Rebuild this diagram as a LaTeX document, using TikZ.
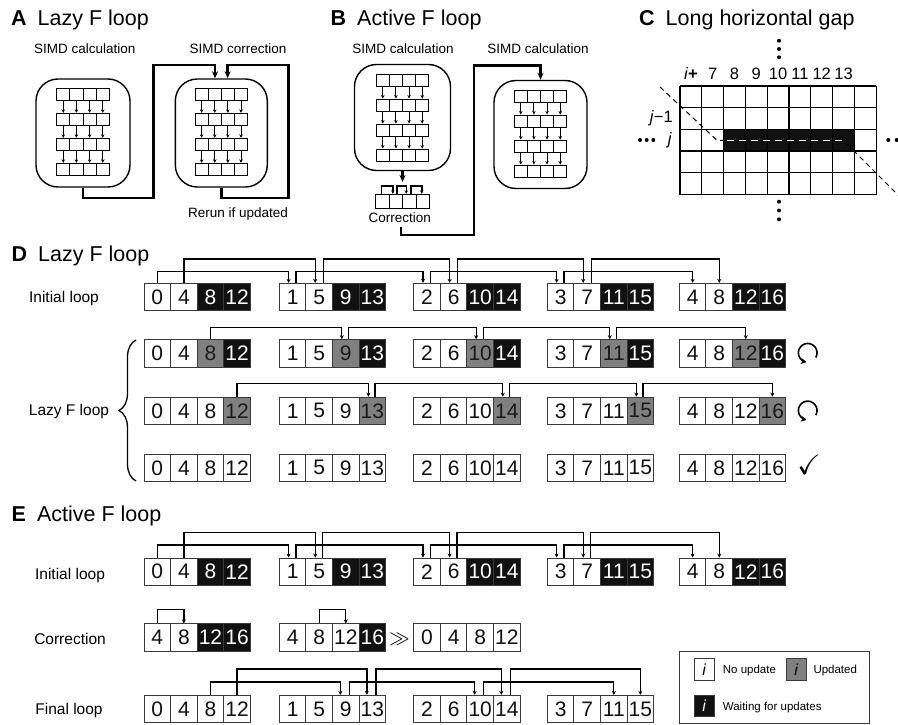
\documentclass[tikz,border=0pt]{standalone}
\usepackage{amssymb}
\usepackage{fontspec}
\setmainfont{Liberation Sans}
\usetikzlibrary{arrows.meta,decorations.pathreplacing,calc}
\definecolor{cellk}{HTML}{111111}
\definecolor{cellg}{HTML}{808080}
\definecolor{cellw}{HTML}{FFFFFF}
\definecolor{txtk}{HTML}{FFFFFF}
\definecolor{txtg}{HTML}{1A1A1A}
\definecolor{txtw}{HTML}{111111}
\definecolor{bord}{HTML}{3A3A3A}
\tikzset{
 cell/.style={draw=bord, line width=0.9pt, minimum width=26.6pt, minimum height=27.3pt, inner sep=0pt, font=\fontsize{21}{21}\selectfont},
 sarr/.style={line width=1.3pt, -{Stealth[length=4pt,width=4pt]}},
 corarr/.style={line width=1.6pt, -{Stealth[length=3.5pt,width=3.5pt]}},
 bigarr/.style={line width=2.4pt, -{Stealth[length=7pt,width=6pt]}},
 simdcell/.style={draw, line width=0.9pt, minimum width=13.15pt, minimum height=12.4pt, inner sep=0pt},
 corcell/.style={draw, line width=0.9pt, minimum width=13.4pt, minimum height=14pt, inner sep=0pt},
 simdarr/.style={line width=1pt, -{Stealth[length=3.5pt,width=3.5pt]}},
 simdbox/.style={draw, line width=1.4pt, rounded corners=22pt},
 title/.style={anchor=base west, inner sep=0pt, font=\fontsize{21.5}{23}\selectfont},
 lab/.style={anchor=base, inner sep=1pt, font=\fontsize{13.5}{15}\selectfont},
 rowlab/.style={anchor=base, inner sep=1pt, font=\fontsize{15.5}{17}\selectfont},
 clab/.style={anchor=base, inner sep=0pt, font=\fontsize{16.5}{17}\selectfont},
 legcell/.style={draw=bord, line width=0.9pt, minimum width=19.7pt, minimum height=21.7pt, inner sep=0pt, font=\fontsize{16}{16}\selectfont\itshape},
 legtext/.style={anchor=base west, inner sep=0pt, font=\fontsize{11.5}{13}\selectfont},
 rerun/.style={line width=1.6pt, -{Stealth[length=5.5pt,width=6pt]}},
}
\newcommand{\cellgroup}[4]{%
  \foreach \ff/\vv [count=\ii from 0] in {#4}{%
    \node[cell, fill=cell\ff, text=txt\ff] (#1c\ii) at ({#2+13.3+26.6*\ii},#3) {\vv};
  }}
\newcommand{\cnx}[5]{\draw[sarr] ([xshift=#2pt]#1.north) -- ++(0,-#5) -| ([xshift=#4pt]#3.north);}
\newcommand{\simd}[3]{%
  \foreach \rr in {0,...,3}{\foreach \kk in {0,...,3}{%
    \node[simdcell] (#1-\rr-\kk) at ({#2+6.575+13.15*\kk},{#3+6.2+25*\rr}) {};}}
  \foreach \rr/\rn in {0/1,1/2,2/3}{\foreach \kk in {0,...,3}{%
    \draw[simdarr] (#1-\rr-\kk.south) -- (#1-\rn-\kk.north);}}}
\newcommand{\rerunsym}[2]{\draw[rerun] plot[smooth, domain=-30:262, samples=40] ({#1+9.3*cos(\x)},{#2-9.3*sin(\x)});}
\begin{document}
\begin{tikzpicture}[x=1pt,y=-1pt]
\fill[white] (0,0) rectangle (898,725);
\useasboundingbox (0,0) rectangle (898,725);

% ---------- titles
\node[title] (tA) at (11,26) {\textbf{A}\hspace{11pt}Lazy F loop};
\node[title] (tB) at (330.5,26) {\textbf{B}\hspace{11pt}Active F loop};
\node[title] (tC) at (639,26) {\textbf{C}\hspace{11pt}Long horizontal gap};
\node[title] (tD) at (11.5,261.7) {\textbf{D}\hspace{11pt}Lazy F loop};
\node[title] (tE) at (11.5,521.7) {\textbf{E}\hspace{11pt}Active F loop};

% ---------- panel A
\node[lab] (la1) at (84.7,53.3) {SIMD calculation};
\node[lab] (la2) at (238,53.3) {SIMD correction};
\node[lab] (la3) at (238,217.3) {Rerun if updated};
\simd{sa}{56.7}{88.3}
\simd{sb}{195}{88.3}
\node[simdbox, minimum width=94pt, minimum height=108pt] (boxA1) at (83,133) {};
\node[simdbox, minimum width=92pt, minimum height=108pt] (boxA2) at (221.3,133) {};
\coordinate (A1turn) at (153.3,65);
\coordinate (A2turn) at (288.3,65);
\draw[bigarr] (boxA1.south) -- ++(0,10) -| (A1turn) -| ([xshift=-6.3pt]boxA2.north);
\draw[bigarr] (boxA2.south) -- ++(0,10) -| (A2turn) -| ([xshift=6.3pt]boxA2.north);

% ---------- panel B
\node[lab] (lb1) at (403,53.3) {SIMD calculation};
\node[lab] (lb2) at (538,53.3) {SIMD calculation};
\simd{sc}{376.2}{74}
\node[simdbox, minimum width=96pt, minimum height=106pt] (boxB1) at (402.5,117.5) {};
\foreach \ii in {0,...,3}{\node[corcell] (bc\ii) at ({375.8+6.7+13.4*\ii},201.3) {};}
\coordinate (Bctop) at (402.5,182);
\draw[bigarr] (boxB1.south) -- (Bctop);
\draw[corarr] ([xshift=-1pt]bc0.north) -- ++(0,-7.6) -| ([xshift=-3pt]bc1.north);
\draw[corarr] ([xshift=1pt]bc1.north) -- ++(0,-7.6) -| ([xshift=-3pt]bc2.north);
\draw[corarr] ([xshift=1.5pt]bc2.north) -- ++(0,-7.6) -| ([xshift=-1pt]bc3.north);
\node[lab] (bcorr) at (399.7,222.7) {Correction};
\simd{sd}{514.2}{90}
\node[simdbox, minimum width=93pt, minimum height=108pt] (boxB2) at (540.5,134.5) {};
\coordinate (Bturn) at (474,65.7);
\draw[bigarr] ([xshift=1.3pt,yshift=-3pt]bcorr.south) -- ++(0,8) -| (Bturn) -| (boxB2.north);

% ---------- panel C
\fill[cellk] (723.6,129.4) rectangle (854.4,151.1);
\foreach \ii in {0,...,9}{\draw[line width=1.3pt] ({680+21.8*\ii},86) -- ({680+21.8*\ii},194.5);}
\foreach \jj in {0,...,5}{\draw[line width=1.3pt] (680,{86+21.7*\jj}) -- (876.2,{86+21.7*\jj});}
\draw[line width=1pt, dash pattern=on 5pt off 4pt] (660,87) -- (717,140.3) -- (723.6,140.3);
\draw[white, line width=1.3pt, dash pattern=on 7pt off 5pt] (727,140.3) -- (846,140.3);
\draw[line width=1pt, dash pattern=on 5pt off 4pt] (847,144) -- (905,202);
\node[clab] (ci0) at (690.9,80) {\textit{i}\textbf{+}};
\foreach \lbl [count=\ii from 1] in {7,8,9,10,11,12,13}{\node[clab] (ci\ii) at ({690.9+21.8*\ii},80) {\lbl};}
\node[clab, anchor=base east] (cj1) at (673,122) {\textit{j}−1};
\node[clab, anchor=base east] (cj0) at (672,144) {\textit{j}};
\foreach \px in {640,646.7,653.3}{\fill (\px,140) circle (2pt);}
\foreach \px in {888.3,896.7,905}{\fill (\px,140) circle (2pt);}
\foreach \py in {40.7,49,57.3}{\fill (779,\py) circle (2pt);}
\foreach \py in {201.7,210.5,219.3}{\fill (779,\py) circle (2pt);}

% ---------- panel D
\node[rowlab] (dlab1) at (64,302.3) {Initial loop};
\node[rowlab] (dlab2) at (69,415) {Lazy F loop};
\draw[line width=1.3pt, decorate, decoration={brace, amplitude=17pt}] (136,481) -- (136,340);

\cellgroup{da0}{144}{297}{w/0,w/4,k/8,k/12}
\cellgroup{da1}{279.3}{297}{w/1,w/5,k/9,k/13}
\cellgroup{da2}{413.7}{297}{w/2,w/6,k/10,k/14}
\cellgroup{da3}{547.3}{297}{w/3,w/7,k/11,k/15}
\cellgroup{da4}{679.3}{297}{w/4,w/8,k/12,k/16}
\cnx{da0c0}{0}{da1c0}{-4}{11.6}
\cnx{da1c0}{3.5}{da2c0}{-4}{11.6}
\cnx{da2c0}{3.5}{da3c0}{-4}{11.6}
\cnx{da3c0}{3.5}{da4c0}{0}{11.6}
\cnx{da0c1}{0}{da1c1}{-4}{24}
\cnx{da1c1}{4}{da2c1}{-4}{24}
\cnx{da2c1}{4}{da3c1}{-4}{24}
\cnx{da3c1}{4}{da4c1}{0}{24}

\cellgroup{db0}{144}{353.3}{w/0,w/4,g/8,k/12}
\cellgroup{db1}{279.3}{353.3}{w/1,w/5,g/9,k/13}
\cellgroup{db2}{413.7}{353.3}{w/2,w/6,g/10,k/14}
\cellgroup{db3}{547.3}{353.3}{w/3,w/7,g/11,k/15}
\cellgroup{db4}{679.3}{353.3}{w/4,w/8,g/12,k/16}
\cnx{db0c2}{0}{db1c2}{-4}{11.4}
\cnx{db1c2}{3}{db2c2}{-4}{11.4}
\cnx{db2c2}{3}{db3c2}{-4}{11.4}
\cnx{db3c2}{3}{db4c2}{0}{11.4}

\cellgroup{dc0}{144}{410.8}{w/0,w/4,w/8,g/12}
\cellgroup{dc1}{279.3}{410.8}{w/1,w/5,w/9,g/13}
\cellgroup{dc2}{413.7}{410.8}{w/2,w/6,w/10,g/14}
\cellgroup{dc3}{547.3}{410.8}{w/3,w/7,w/11,g/15}
\cellgroup{dc4}{679.3}{410.8}{w/4,w/8,w/12,g/16}
\cnx{dc0c3}{0}{dc1c3}{-4}{13}
\cnx{dc1c3}{2.5}{dc2c3}{-4}{13}
\cnx{dc2c3}{2.5}{dc3c3}{-4}{13}
\cnx{dc3c3}{2.5}{dc4c3}{0}{13}

\cellgroup{dd0}{144}{467.8}{w/0,w/4,w/8,w/12}
\cellgroup{dd1}{279.3}{467.8}{w/1,w/5,w/9,w/13}
\cellgroup{dd2}{413.7}{467.8}{w/2,w/6,w/10,w/14}
\cellgroup{dd3}{547.3}{467.8}{w/3,w/7,w/11,w/15}
\cellgroup{dd4}{679.3}{467.8}{w/4,w/8,w/12,w/16}

\rerunsym{807.7}{352.8}
\rerunsym{807.7}{410.5}
\node[inner sep=0pt, font=\fontsize{28}{28}\selectfont] (chk) at (809,465) {$\checkmark$};

% ---------- panel E
\node[rowlab] (elab1) at (70,579.3) {Initial loop};
\node[rowlab] (elab2) at (70,644) {Correction};
\node[rowlab] (elab3) at (69,714) {Final loop};

\cellgroup{ea0}{144}{571.7}{w/0,w/4,k/8,k/12}
\cellgroup{ea1}{279.3}{571.7}{w/1,w/5,k/9,k/13}
\cellgroup{ea2}{413.7}{571.7}{w/2,w/6,k/10,k/14}
\cellgroup{ea3}{547.3}{571.7}{w/3,w/7,k/11,k/15}
\cellgroup{ea4}{679.3}{571.7}{w/4,w/8,k/12,k/16}
\cnx{ea0c0}{0}{ea1c0}{-4}{12.6}
\cnx{ea1c0}{3.5}{ea2c0}{-4}{12.6}
\cnx{ea2c0}{3.5}{ea3c0}{-4}{12.6}
\cnx{ea3c0}{3.5}{ea4c0}{0}{12.6}
\cnx{ea0c1}{0}{ea1c1}{-4}{25}
\cnx{ea1c1}{3.5}{ea2c1}{-4}{25}
\cnx{ea2c1}{3.5}{ea3c1}{-4}{25}
\cnx{ea3c1}{3.5}{ea4c1}{0}{25}

\cellgroup{eb0}{144}{637.5}{w/4,w/8,k/12,k/16}
\cellgroup{eb1}{279.3}{637.5}{w/4,w/8,w/12,k/16}
\cellgroup{eb2}{413.7}{637.5}{w/0,w/4,w/8,w/12}
\cnx{eb0c0}{0}{eb0c1}{0}{14}
\cnx{eb1c1}{0}{eb1c2}{0}{14}
\node[inner sep=0pt, font=\fontsize{22}{22}\selectfont] (gg) at (399.5,639) {$\gg$};

\cellgroup{ec0}{144}{709}{w/0,w/4,w/8,w/12}
\cellgroup{ec1}{279.3}{709}{w/1,w/5,w/9,w/13}
\cellgroup{ec2}{413.7}{709}{w/2,w/6,w/10,w/14}
\cellgroup{ec3}{547.3}{709}{w/3,w/7,w/11,w/15}
\cnx{ec0c2}{0}{ec1c2}{-5.5}{13}
\cnx{ec1c2}{3.5}{ec2c2}{-5.5}{13}
\cnx{ec2c2}{3.5}{ec3c2}{0}{13}
\cnx{ec0c3}{0}{ec1c3}{-5.5}{26}
\cnx{ec1c3}{3.5}{ec2c3}{-5.5}{26}
\cnx{ec2c3}{3.5}{ec3c3}{0}{26}

% ---------- legend
\node[draw=bord, line width=1pt, minimum width=189.7pt, minimum height=71.7pt, anchor=north west, inner sep=0pt] (legend) at (679.3,651) {};
\node[legcell, fill=cellw] (lw) at (704.2,669.2) {i};
\node[legcell, fill=cellg] (lg) at (796.2,669.2) {i};
\node[legcell, fill=cellk, text=white] (lk) at (704.2,705.8) {i};
\node[legtext] (tw) at (722.7,673.3) {No update};
\node[legtext] (tg) at (813.3,673.3) {Updated};
\node[legtext] (tk) at (722.7,710) {Waiting for updates};
\end{tikzpicture}
\end{document}
